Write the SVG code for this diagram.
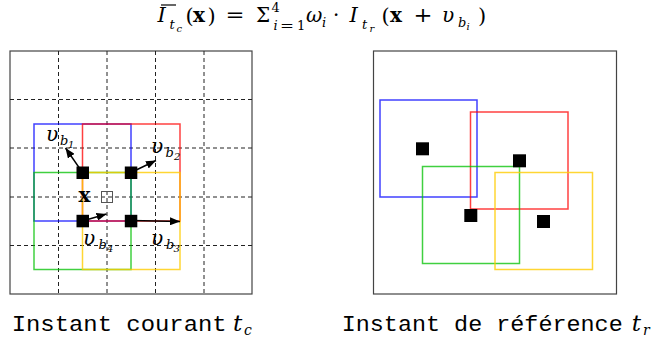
<svg xmlns="http://www.w3.org/2000/svg" width="663" height="341" viewBox="0 0 663 341">
<style>
.frame{fill:none;stroke:#444;stroke-width:1.2}
.grid{stroke:#222;stroke-width:1;stroke-dasharray:4 3;fill:none}
.blk{fill:none;stroke-width:1.5}
.b{stroke:#0000ff;stroke-opacity:0.75}
.r{stroke:#ff0000;stroke-opacity:0.75}
.g{stroke:#00c000;stroke-opacity:0.75}
.y{stroke:#ffcc00;stroke-opacity:0.8}
.pt{fill:#000}
.m{font-family:"DejaVu Serif","Liberation Serif",serif;fill:#000}
.it{font-style:italic}
.bd{font-weight:bold}
.tt{font-family:"Liberation Mono","DejaVu Sans Mono",monospace;font-size:22px;fill:#000}
.arr{stroke:#000;stroke-width:1.4;fill:none;marker-end:url(#ah)}
</style>
<defs>
<marker id="ah" viewBox="0 0 10 8" refX="10" refY="4" markerWidth="10" markerHeight="8" markerUnits="userSpaceOnUse" orient="auto">
<path d="M0,0 L10,4 L0,8 Z" fill="#000"/>
</marker>
</defs>
<rect width="663" height="341" fill="#fff"/>

<g id="title" class="m" font-size="20">
<text class="it" x="157.5" y="22" font-size="21">I</text>
<line x1="161" y1="5" x2="176" y2="5" stroke="#000" stroke-width="1.2"/>
<text class="it" x="169.5" y="29" font-size="13">t</text>
<text class="it" x="176.5" y="32" font-size="10">c</text>
<text x="185.5" y="23" font-size="21">(</text>
<text class="bd" x="193" y="22">x</text>
<text x="207.5" y="23" font-size="21">)</text>
<text x="225.5" y="22" textLength="19" lengthAdjust="spacingAndGlyphs">=</text>
<text x="256" y="22">Σ</text>
<text x="271.5" y="12" font-size="13">4</text>
<text class="it" x="273.5" y="30" font-size="13">i</text>
<text x="280" y="30" font-size="13" textLength="14" lengthAdjust="spacingAndGlyphs">=</text>
<text x="297" y="30" font-size="13">1</text>
<text class="it" x="306" y="22">ω</text>
<text class="it" x="322" y="27" font-size="13">i</text>
<text x="333" y="22">·</text>
<text class="it" x="349.5" y="22" font-size="21">I</text>
<text class="it" x="362" y="29" font-size="13">t</text>
<text class="it" x="369.5" y="32" font-size="10">r</text>
<text x="381.5" y="23" font-size="21">(</text>
<text class="bd" x="390" y="22">x</text>
<text x="413.5" y="22" textLength="19" lengthAdjust="spacingAndGlyphs">+</text>
<text class="it" x="442" y="22">υ</text>
<text class="it" x="458" y="27" font-size="13">b</text>
<text class="it" x="466.5" y="30" font-size="10">i</text>
<text x="478" y="23" font-size="21">)</text>
</g>

<g id="left-panel">
<rect class="frame" x="10" y="51" width="242" height="243"/>
<g class="grid">
<line x1="58.5" y1="51" x2="58.5" y2="294"/>
<line x1="107" y1="51" x2="107" y2="294"/>
<line x1="155.5" y1="51" x2="155.5" y2="294"/>
<line x1="204" y1="51" x2="204" y2="294"/>
<line x1="10" y1="99.5" x2="252" y2="99.5"/>
<line x1="10" y1="148" x2="252" y2="148"/>
<line x1="10" y1="197" x2="252" y2="197"/>
<line x1="10" y1="245.5" x2="252" y2="245.5"/>
</g>
<g id="blocks-left">
<rect class="blk b" x="34" y="124" width="97" height="97"/>
<rect class="blk r" x="82.5" y="124" width="97.5" height="97"/>
<rect class="blk g" x="34" y="172.5" width="97" height="97"/>
<rect class="blk y" x="82.5" y="172.5" width="97.5" height="97"/>
</g>
<rect x="101.5" y="191.5" width="11" height="11" fill="none" stroke="#555" stroke-width="1"/>
<text class="m bd" x="78.5" y="202" font-size="20">x</text>
</g>

<g id="connectors">
<line class="arr" x1="82.5" y1="172.5" x2="65.5" y2="148"/>
<line class="arr" x1="131" y1="172.5" x2="156" y2="160.5"/>
<line class="arr" x1="82.5" y1="221" x2="106.5" y2="214"/>
<line class="arr" x1="131" y1="220.5" x2="180" y2="221.5"/>
</g>

<g id="points-left">
<rect class="pt" x="76.5" y="166.5" width="12.5" height="12.5"/>
<rect class="pt" x="124.8" y="166.5" width="12.5" height="12.5"/>
<rect class="pt" x="76.5" y="214.8" width="12.5" height="12.5"/>
<rect class="pt" x="124.8" y="214.8" width="12.5" height="12.5"/>
</g>

<g id="labels-left" class="m it">
<g id="vb1"><text x="46" y="141" font-size="20">υ</text><text x="60" y="145" font-size="13">b</text><text x="68" y="148" font-size="10">1</text></g>
<g id="vb2"><text x="151" y="153" font-size="20">υ</text><text x="165.5" y="157" font-size="13">b</text><text x="174" y="160" font-size="10">2</text></g>
<g id="vb4"><text x="83" y="245" font-size="20">υ</text><text x="98.5" y="249" font-size="13">b</text><text x="107" y="252" font-size="10">4</text></g>
<g id="vb3"><text x="151" y="245" font-size="20">υ</text><text x="166" y="249" font-size="13">b</text><text x="173.5" y="252" font-size="10">3</text></g>
</g>

<g id="right-panel">
<rect class="frame" x="373.5" y="51" width="243" height="243"/>
<g id="blocks-right">
<rect class="blk b" x="380" y="100" width="97" height="97"/>
<rect class="blk r" x="470.5" y="112" width="97.5" height="97"/>
<rect class="blk g" x="422.5" y="166.5" width="97" height="97"/>
<rect class="blk y" x="495" y="172.5" width="97.5" height="97"/>
</g>
<g id="points-right">
<rect class="pt" x="416" y="142.3" width="13" height="13"/>
<rect class="pt" x="513" y="154.3" width="13" height="13"/>
<rect class="pt" x="464.3" y="209" width="13" height="13"/>
<rect class="pt" x="537" y="215" width="13" height="13"/>
</g>
</g>

<g id="captions">
<text class="tt" x="11.7" y="331" textLength="215" lengthAdjust="spacingAndGlyphs">Instant courant</text>
<text class="m it" x="233" y="331" font-size="23">t</text>
<text class="m it" x="244" y="335" font-size="14">c</text>
<text class="tt" x="341.7" y="331" textLength="281" lengthAdjust="spacingAndGlyphs">Instant de référence</text>
<text class="m it" x="631.7" y="331" font-size="23">t</text>
<text class="m it" x="643" y="335" font-size="14">r</text>
</g>
</svg>
